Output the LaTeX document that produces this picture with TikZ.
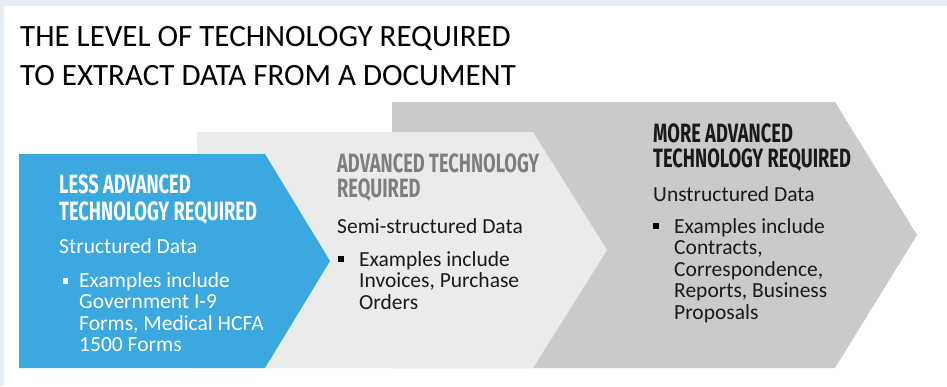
\documentclass[tikz,border=0pt]{standalone}
\usepackage{fontspec}
\setmainfont{Carlito}
\newfontfamily\headfont[FakeStretch=0.69]{Fira Sans}
\definecolor{bgblue}{HTML}{E4EDF3}
\definecolor{stepblue}{HTML}{3BA8DF}
\definecolor{lightgrey}{HTML}{EAEBEB}
\definecolor{darkgrey}{HTML}{CBCAC8}
\definecolor{headgrey}{HTML}{7F7F7F}
\definecolor{inkblack}{HTML}{1A1A1A}
\begin{document}
\begin{tikzpicture}[x=1pt, y=-1pt,
  head/.style={anchor=base west, inner sep=0pt, font=\headfont\bfseries\fontsize{26.5}{26.5}\selectfont},
  body/.style={anchor=base west, inner sep=0pt, font=\fontsize{21.5}{21.5}\selectfont},
  bul/.style={fill, minimum size=5.5pt, inner sep=0pt}]
\useasboundingbox (0,0) rectangle (947,386);
\fill[bgblue] (0,0) rectangle (947,386);
\fill[white] (4,6) rectangle (947,386);
% title
\node[anchor=base west, inner sep=0pt, font=\fontsize{31}{31}\selectfont, text=black] (title1) at (20,46) {THE LEVEL OF TECHNOLOGY REQUIRED};
\node[anchor=base west, inner sep=0pt, font=\fontsize{31}{31}\selectfont, text=black] (title2) at (20,85) {TO EXTRACT DATA FROM A DOCUMENT};
% the three chevrons
\fill[darkgrey] (392,102) -- (835,102) -- (917,235) -- (835,368) -- (392,368) -- cycle;
\fill[lightgrey] (197,132) -- (533,132) -- (607,250) -- (533,368) -- (197,368) -- cycle;
\fill[stepblue] (19,154) -- (265,154) -- (330,261) -- (265,368) -- (19,368) -- cycle;
% less advanced
\node[head, text=white] (lessA) at (59,193) {LESS ADVANCED};
\node[head, text=white] (lessB) at (59,220) {TECHNOLOGY REQUIRED};
\node[body, text=white] (lessC) at (59,253) {Structured Data};
\node[bul, fill=white] (lessbul) at (65.5,281) {};
\node[body, text=white] (lessD) at (79,287) {Examples include};
\node[body, text=white] (lessE) at (79,308.5) {Government I-9};
\node[body, text=white] (lessF) at (79,330) {Forms, Medical HCFA};
\node[body, text=white] (lessG) at (79,351.5) {1500 Forms};
% advanced
\node[head, text=headgrey] (advA) at (337,172) {ADVANCED TECHNOLOGY};
\node[head, text=headgrey] (advB) at (337,197) {REQUIRED};
\node[body, text=inkblack] (advC) at (337,233) {Semi-structured Data};
\node[bul, fill=black] (advbul) at (341,259) {};
\node[body, text=inkblack] (advD) at (359,266) {Examples include};
\node[body, text=inkblack] (advE) at (359,287.5) {Invoices, Purchase};
\node[body, text=inkblack] (advF) at (359,309) {Orders};
% more advanced
\node[head, text=inkblack] (moreA) at (653,142) {MORE ADVANCED};
\node[head, text=inkblack] (moreB) at (653,167) {TECHNOLOGY REQUIRED};
\node[body, text=inkblack] (moreC) at (653,201) {Unstructured Data};
\node[bul, fill=black] (morebul) at (656,226) {};
\node[body, text=inkblack] (moreD) at (674,233) {Examples include};
\node[body, text=inkblack] (moreE) at (674,254.5) {Contracts,};
\node[body, text=inkblack] (moreF) at (674,276) {Correspondence,};
\node[body, text=inkblack] (moreG) at (674,297.5) {Reports, Business};
\node[body, text=inkblack] (moreH) at (674,319) {Proposals};
\end{tikzpicture}
\end{document}
